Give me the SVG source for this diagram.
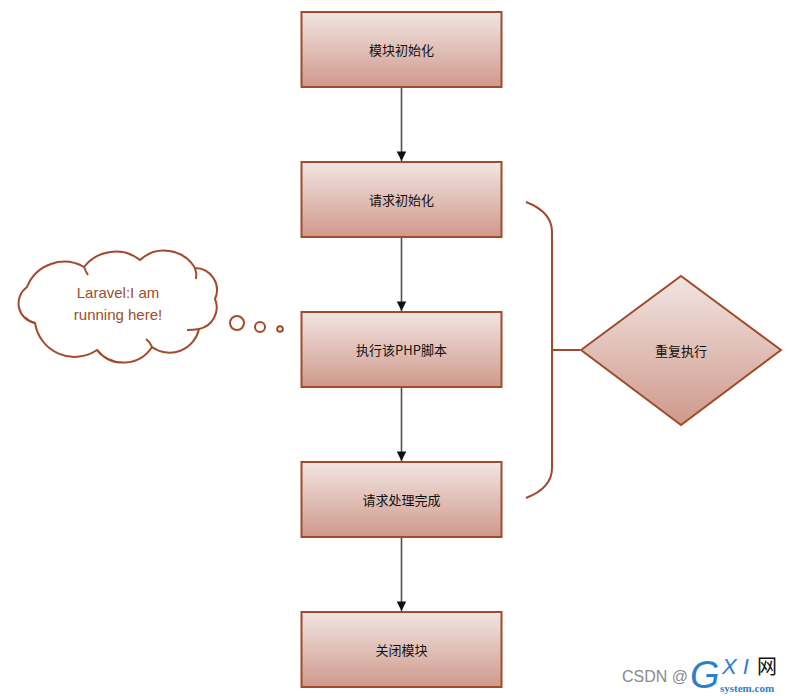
<svg xmlns="http://www.w3.org/2000/svg" width="788" height="696" viewBox="0 0 788 696">
<style>
.box{fill:url(#g);stroke:#a14b2b;stroke-width:2}
.lbl{font-family:"Noto Sans CJK SC","Liberation Sans",sans-serif;font-size:13px;fill:#111;text-anchor:middle;dominant-baseline:central}
.con{stroke:#505050;stroke-width:1.6;fill:none;marker-end:url(#ah)}
.brn{stroke:#a14b2b;stroke-width:2;fill:none}
</style>
<defs>
<linearGradient id="g" x1="0" y1="0" x2="0" y2="1">
<stop offset="0" stop-color="#f2e5e2"/>
<stop offset="1" stop-color="#cf998b"/>
</linearGradient>
<marker id="ah" viewBox="0 0 10 10" refX="10" refY="5" markerWidth="6" markerHeight="6" orient="auto" markerUnits="strokeWidth">
<path d="M0,0 L10,5 L0,10 Z" fill="#111"/>
</marker>
</defs>
<rect width="788" height="696" fill="#fff"/>
<g id="connectors">
<line class="con" x1="401.5" y1="88" x2="401.5" y2="161"/>
<line class="con" x1="401.5" y1="238" x2="401.5" y2="311"/>
<line class="con" x1="401.5" y1="388" x2="401.5" y2="461"/>
<line class="con" x1="401.5" y1="538" x2="401.5" y2="611"/>
</g>
<g id="n1"><rect class="box" x="301.5" y="12" width="200" height="75"/><text class="lbl" x="401.5" y="49.5">模块初始化</text></g>
<g id="n2"><rect class="box" x="301.5" y="162" width="200" height="75"/><text class="lbl" x="401.5" y="199.5">请求初始化</text></g>
<g id="n3"><rect class="box" x="301.5" y="312" width="200" height="75"/><text class="lbl" x="401.5" y="349.5">执行该PHP脚本</text></g>
<g id="n4"><rect class="box" x="301.5" y="462" width="200" height="75"/><text class="lbl" x="401.5" y="499.5">请求处理完成</text></g>
<g id="n5"><rect class="box" x="301.5" y="612" width="200" height="75"/><text class="lbl" x="401.5" y="649.5">关闭模块</text></g>
<g id="brace">
<path class="brn" d="M526,202 Q552,212 552,232 L552,468 Q552,488 526,498 M552,350 L580,350"/>
</g>
<g id="diamond">
<polygon class="box" points="581,350 681,276 781,350 681,425"/>
<text class="lbl" x="681" y="350">重复执行</text>
</g>
<g id="cloud">
<path fill="#fff" stroke="#a14b2b" stroke-width="2" d="M35,323 A20,20 0 0 1 27,287 A40,40 0 0 1 84,267 A40,40 0 0 1 140,260 A36,36 0 0 1 195,268 A22,22 0 0 1 215,299 A22,22 0 0 1 199,329 A30,30 0 0 1 152,347 A34,34 0 0 1 97,350 A40,40 0 0 1 35,323 Z"/>
<path class="brn" d="M35,323 Q28,321 25,317 M84,267 Q86,272 88,275 M195,268 Q197,274 196,279 M199,329 Q193,330 187,330 M152,347 Q150,342 146,339"/>
<text x="118" y="298" font-family="Liberation Sans,sans-serif" font-size="15" fill="#a14b2b" text-anchor="middle">Laravel:I am</text>
<text x="118" y="320" font-family="Liberation Sans,sans-serif" font-size="15" fill="#a14b2b" text-anchor="middle">running here!</text>
<circle class="brn" cx="237" cy="323" r="7"/>
<circle class="brn" cx="260" cy="327" r="5"/>
<circle class="brn" cx="280" cy="329" r="2.8"/>
</g>
<g id="watermark">
<text x="622" y="682" font-family="Liberation Sans,sans-serif" font-size="16" fill="#8a8a8a">CSDN @</text>
<text x="690" y="688" font-family="Liberation Sans,sans-serif" font-size="38" font-style="italic" fill="#2a7fd0">G</text>
<text x="722" y="674" font-family="Liberation Sans,sans-serif" font-size="22" font-style="italic" fill="#2a7fd0">X I</text>
<text x="757" y="674" font-family="Noto Sans CJK SC,sans-serif" font-size="20" fill="#111">网</text>
<text x="720" y="692" font-family="Liberation Serif,serif" font-size="11" font-weight="bold" fill="#2a7fd0">system.com</text>
</g>
</svg>
